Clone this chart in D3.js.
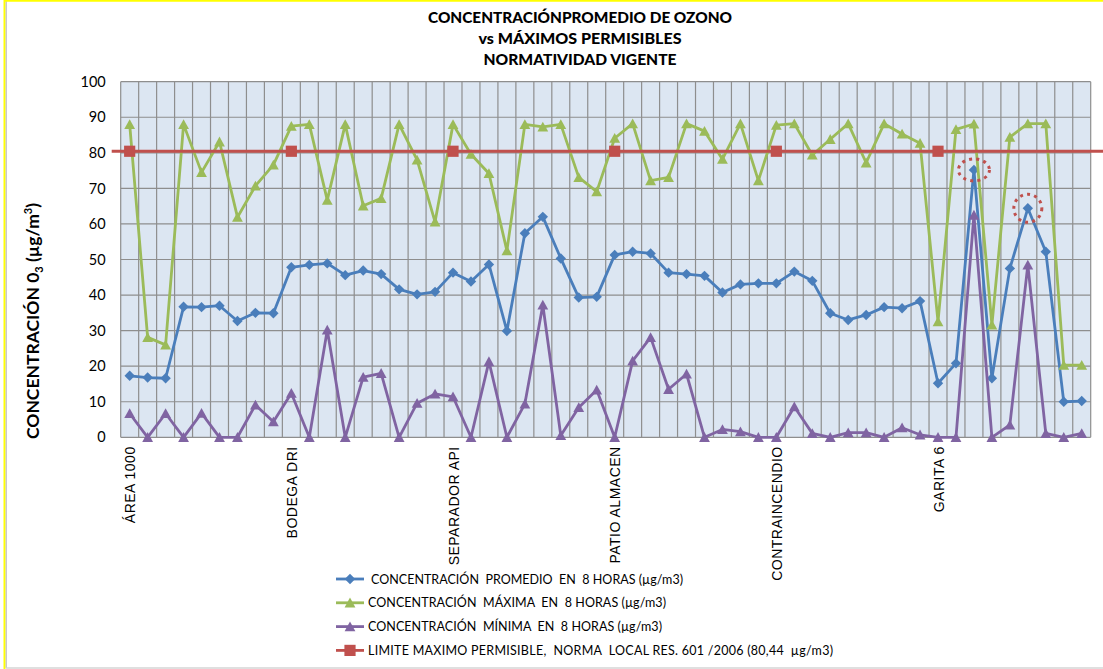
<!DOCTYPE html>
<html>
<head>
<meta charset="utf-8">
<script src="https://cdn.jsdelivr.net/npm/d3@7"></script>
<style>
  body { margin: 0; background: #fff; }
  svg { display: block; }
</style>
</head>
<body>
<svg id="chart" width="1103" height="669"></svg>
<script>
// Monitoring stations; each contributes nine 8-hour readings
const stations = ["ÁREA 1000", "BODEGA DRI", "SEPARADOR API", "PATIO ALMACEN", "CONTRAINCENDIO", "GARITA 6"];
const readingsPerStation = 9;

// Average ozone concentration over 8 hours (µg/m3)
const promedio = [
  17.3, 16.8, 16.6, 36.7, 36.6, 37.0, 32.7, 35.0, 34.9,
  47.8, 48.5, 48.9, 45.6, 46.9, 45.9, 41.6, 40.2, 40.9,
  46.3, 43.8, 48.6, 29.9, 57.4, 62.0, 50.3, 39.3, 39.5,
  51.3, 52.2, 51.7, 46.3, 45.9, 45.4, 40.7, 43.0, 43.3,
  43.3, 46.6, 44.0, 34.9, 33.0, 34.4, 36.6, 36.3, 38.3,
  15.2, 20.8, 75.2, 16.6, 47.5, 64.4, 52.2, 10.0, 10.2
];

// Maximum concentration over 8 hours (µg/m3)
const maxima = [
  88.0, 28.1, 26.0, 88.0, 74.5, 83.1, 61.9, 70.7, 76.6,
  87.5, 88.0, 66.7, 88.0, 65.1, 67.2, 88.0, 78.0, 60.6,
  88.0, 79.6, 74.2, 52.5, 88.0, 87.3, 88.0, 73.1, 69.1,
  84.1, 88.2, 72.2, 73.1, 88.2, 86.1, 78.2, 88.2, 72.2,
  87.8, 88.2, 79.4, 83.8, 88.2, 77.2, 88.2, 85.3, 82.7,
  32.5, 86.6, 88.1, 31.6, 84.4, 88.2, 88.2, 20.3, 20.3
];

// Minimum concentration over 8 hours (µg/m3)
const minima = [
  6.7, 0.0, 6.7, 0.0, 6.8, 0.0, 0.0, 9.1, 4.4,
  12.4, 0.0, 30.2, 0.0, 16.9, 18.0, 0.0, 9.6, 12.2,
  11.4, 0.0, 21.3, 0.0, 9.4, 37.2, 0.5, 8.4, 13.3,
  0.0, 21.5, 28.1, 13.5, 17.8, 0.0, 2.2, 1.6, 0.0,
  0.0, 8.6, 1.1, 0.0, 1.3, 1.3, 0.0, 2.7, 0.7,
  0.0, 0.0, 62.5, 0.0, 3.5, 48.5, 1.1, 0.0, 1.1
];

// Local permissible limit, Res. 601/2006
const limite = 80.44;

// Readings flagged with a dotted ring (average above the usual range)
const highlighted = [47, 50];

const yTicks = [0, 10, 20, 30, 40, 50, 60, 70, 80, 90, 100];

const titleLines = ["CONCENTRACIÓNPROMEDIO DE OZONO", "vs  MÁXIMOS PERMISIBLES", "NORMATIVIDAD VIGENTE"];

const legendLabels = [
  "CONCENTRACIÓN  PROMEDIO  EN  8 HORAS (µg/m3)",
  "CONCENTRACIÓN  MÁXIMA  EN  8 HORAS (µg/m3)",
  "CONCENTRACIÓN  MÍNIMA  EN  8 HORAS (µg/m3)",
  "LIMITE MAXIMO PERMISIBLE,  NORMA  LOCAL RES. 601 /2006 (80,44  µg/m3)"
];

// ---------------------------------------------------------------------------
const categories = d3.range(stations.length * readingsPerStation);
const categoryLabel = i => (i % readingsPerStation === 0 ? stations[i / readingsPerStation] : "");

const svg = d3.select("#chart");
const plot = { left: 120.7, right: 1090.7, top: 81.7, bottom: 437.3 };

const x = d3.scaleBand().domain(categories).range([plot.left, plot.right]).padding(0);
const cx = i => x(i) + x.bandwidth() / 2;
const y = d3.scaleLinear().domain([0, 100]).range([plot.bottom, plot.top]);

const colors = { promedio: "#4a7ebb", maxima: "#9bbb59", minima: "#8064a2", limite: "#c0504d" };
const uiFont = "Lato, 'Open Sans', sans-serif";

// Frame of the chart area
svg.append("line").attr("x1", 4.5).attr("x2", 4.5).attr("y1", 0).attr("y2", 669)
  .attr("stroke", "#ffff00").attr("stroke-width", 2);
svg.append("line").attr("x1", 6.2).attr("x2", 6.2).attr("y1", 1).attr("y2", 668)
  .attr("stroke", "#b0b0b0").attr("stroke-width", 1);
svg.append("line").attr("x1", 4).attr("x2", 1103).attr("y1", 0.8).attr("y2", 0.8)
  .attr("stroke", "#ffff00").attr("stroke-width", 2);
svg.append("line").attr("x1", 6).attr("x2", 1103).attr("y1", 668).attr("y2", 668)
  .attr("stroke", "#d4d4d4").attr("stroke-width", 1.5);

// Title
const titleWidths = [304, 203, 193];
svg.append("g").selectAll("text").data(titleLines).join("text")
  .attr("x", 580).attr("y", (d, i) => 23 + i * 21)
  .attr("text-anchor", "middle")
  .attr("font-family", uiFont).attr("font-weight", 900).attr("font-size", 14.5)
  .attr("fill", "#000")
  .attr("textLength", (d, i) => titleWidths[i])
  .attr("lengthAdjust", "spacingAndGlyphs")
  .text(d => d);

// Plot background
svg.append("rect")
  .attr("x", plot.left).attr("y", plot.top)
  .attr("width", plot.right - plot.left).attr("height", plot.bottom - plot.top)
  .attr("fill", "#dce6f2");

// Gridlines
const grid = svg.append("g").attr("stroke", "#8e8e8e").attr("stroke-width", 1.2);
grid.selectAll("line.h").data(yTicks).join("line").attr("class", "h")
  .attr("x1", plot.left).attr("x2", plot.right)
  .attr("y1", d => y(d)).attr("y2", d => y(d));
grid.selectAll("line.v").data(categories.concat([categories.length])).join("line").attr("class", "v")
  .attr("x1", i => (i < categories.length ? x(i) : plot.right))
  .attr("x2", i => (i < categories.length ? x(i) : plot.right))
  .attr("y1", plot.top).attr("y2", plot.bottom);

// Y axis labels
const yAxis = svg.append("g").attr("transform", `translate(${plot.left},0)`)
  .call(d3.axisLeft(y).tickValues(yTicks).tickSize(0).tickPadding(15));
yAxis.select(".domain").remove();
yAxis.selectAll("text").attr("font-family", uiFont).attr("font-size", 14.5).attr("fill", "#000");

// Y axis title
const yTitle = svg.append("text")
  .attr("transform", "translate(39,321) rotate(-90)")
  .attr("text-anchor", "middle")
  .attr("font-family", uiFont).attr("font-weight", 700).attr("font-size", 17.5)
  .attr("fill", "#000");
yTitle.append("tspan").text("CONCENTRACIÓN  0");
yTitle.append("tspan").attr("font-size", 11).attr("dy", 4).text("3");
yTitle.append("tspan").attr("dy", -4).text("  (µg/m");
yTitle.append("tspan").attr("font-size", 11).attr("dy", -7).text("3");
yTitle.append("tspan").attr("dy", 7).text(")");

// X axis station labels
svg.append("g").selectAll("text").data(categories.filter(i => categoryLabel(i) !== "")).join("text")
  .attr("transform", i => `translate(${cx(i) + 5.5},${plot.bottom + 9}) rotate(-90)`)
  .attr("text-anchor", "end")
  .attr("font-family", "'Liberation Sans', Arial, sans-serif").attr("font-size", 14)
  .attr("letter-spacing", 0.5)
  .attr("fill", "#000")
  .text(i => categoryLabel(i));

// Marker shapes
const markerPath = {
  diamond: "M0,-5.2L5.2,0L0,5.2L-5.2,0Z",
  triangle: "M0,-5.2L5.4,4.6L-5.4,4.6Z",
  square: "M-5.6,-5.6H5.6V5.6H-5.6Z"
};

const line = d3.line().x((d, i) => cx(i)).y(d => y(d));

function drawSeries(values, color, marker) {
  const g = svg.append("g");
  g.append("path").datum(values)
    .attr("d", line)
    .attr("fill", "none").attr("stroke", color)
    .attr("stroke-width", 2.8).attr("stroke-linejoin", "round");
  g.selectAll("path.m").data(values).join("path").attr("class", "m")
    .attr("transform", (d, i) => `translate(${cx(i)},${y(d)})`)
    .attr("d", markerPath[marker])
    .attr("fill", color);
}

drawSeries(promedio, colors.promedio, "diamond");
drawSeries(maxima, colors.maxima, "triangle");
drawSeries(minima, colors.minima, "triangle");

// Permissible limit line with markers at each station's first reading
const limitG = svg.append("g");
limitG.append("line")
  .attr("x1", plot.left - 9).attr("x2", 1103)
  .attr("y1", y(limite)).attr("y2", y(limite))
  .attr("stroke", colors.limite).attr("stroke-width", 3);
limitG.selectAll("path").data(categories.filter(i => i % readingsPerStation === 0)).join("path")
  .attr("transform", i => `translate(${cx(i)},${y(limite)})`)
  .attr("d", markerPath.square)
  .attr("fill", colors.limite);

// Dotted rings around the flagged average readings
const ringSize = [[15.5, 11], [14, 14]];
svg.append("g").selectAll("ellipse").data(highlighted).join("ellipse")
  .attr("cx", i => cx(i)).attr("cy", i => y(promedio[i]))
  .attr("rx", (d, k) => ringSize[k][0]).attr("ry", (d, k) => ringSize[k][1])
  .attr("fill", "none").attr("stroke", colors.limite)
  .attr("stroke-width", 3).attr("stroke-dasharray", "3 4.2");

// Legend
const legendSeries = [
  { color: colors.promedio, marker: "diamond", textX: 371 },
  { color: colors.maxima, marker: "triangle", textX: 368 },
  { color: colors.minima, marker: "triangle", textX: 368 },
  { color: colors.limite, marker: "square", textX: 368 }
];
const legendWidths = [312, 298, 294, 465];
const legend = svg.append("g").selectAll("g").data(legendSeries).join("g")
  .attr("transform", (d, i) => `translate(0,${579 + i * 23.8})`);
legend.append("line").attr("x1", 336).attr("x2", 364).attr("y1", 0).attr("y2", 0)
  .attr("stroke", d => d.color).attr("stroke-width", 2.8);
legend.append("path").attr("transform", "translate(350,0)")
  .attr("d", d => markerPath[d.marker]).attr("fill", d => d.color);
legend.append("text")
  .attr("x", d => d.textX).attr("y", 4.5)
  .attr("font-family", uiFont).attr("font-size", 12.5).attr("fill", "#000")
  .attr("textLength", (d, i) => legendWidths[i])
  .style("white-space", "pre")
  .text((d, i) => legendLabels[i]);
</script>
</body>
</html>
